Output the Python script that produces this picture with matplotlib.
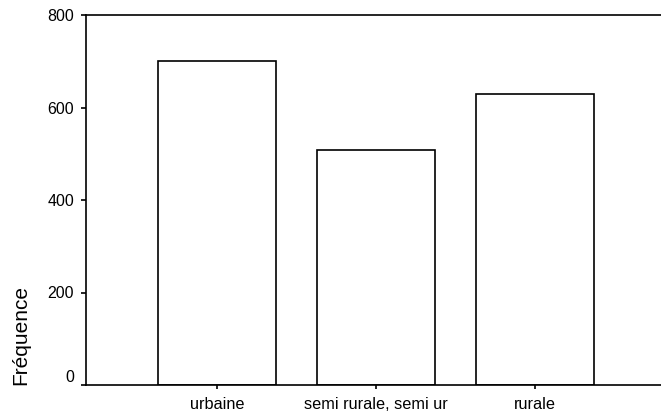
import matplotlib
matplotlib.use("Agg")
import matplotlib.pyplot as plt
import numpy as np

plt.rcParams['font.family'] = ['Liberation Sans', 'DejaVu Sans']

categories = ["urbaine", "semi rurale, semi ur", "rurale"]
frequences = [701, 508, 629]
yticks = [0, 200, 400, 600, 800]

fig = plt.figure(figsize=(6.61, 4.17), dpi=100)
ax = fig.add_axes([86 / 661, 32 / 417, 580 / 661, 370 / 417])

x = np.arange(len(categories))
ax.bar(x, frequences, width=0.742, color="white", edgecolor="black", linewidth=1.2)

ax.set_xlim(-0.824, 2.824)
ax.set_ylim(0, 800)
ax.set_xticks(x)
ax.set_xticklabels(categories, fontsize=11.7)
ax.set_yticks(yticks)
ax.set_yticklabels([str(v) for v in yticks], fontsize=11.5)
# SPSS lifts the "0" label a little above the axis
ax.get_yticklabels()[0].set_va('bottom')

ax.spines['right'].set_visible(False)
for s in ['left', 'top', 'bottom']:
    ax.spines[s].set_linewidth(1.2)
ax.tick_params(axis='y', length=3.6, width=1.2, pad=5)
ax.tick_params(axis='x', length=3, width=1.2, pad=5.5)

fig.text(21 / 661, 1 - 385 / 417, "Fréquence", rotation=90, fontsize=15,
         ha='center', va='bottom')

fig.savefig("out.png", dpi=100)
